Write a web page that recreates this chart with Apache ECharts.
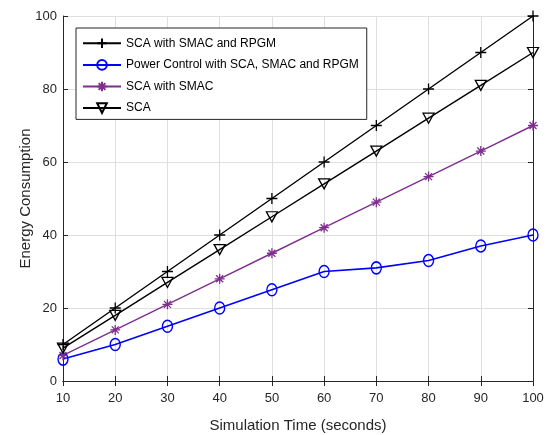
<!DOCTYPE html>
<html><head><meta charset="utf-8">
<script src="https://cdn.jsdelivr.net/npm/echarts@6/dist/echarts.min.js"></script>
<style>html,body{margin:0;padding:0;background:#fff}#c{width:553px;height:435px}</style>
</head><body><div id="c"></div>
<script>
const times = [10,20,30,40,50,60,70,80,90,100];
const scaSmacRpgm = [10,20,30,40,50,60,70,80,90,100];
const powerControl = [6,10,15,20,25,30,31,33,37,40];
const scaSmac = [7,14,21,28,35,42,49,56,63,70];
const sca = [9,18,27,36,45,54,63,72,81,90];
const names = ['SCA with SMAC and RPGM','Power Control with SCA, SMAC and RPGM','SCA with SMAC','SCA'];

const plus = 'path://M5,0 L5,10 M0,5 L10,5';
const star = 'path://M5,0 L5,10 M0,5 L10,5 M1.5,1.5 L8.5,8.5 M8.5,1.5 L1.5,8.5';
const tri = 'path://M0,0 L10,0 L5,10 Z';
const circ = 'path://M10,6 A5,6 0 1,1 0,6 A5,6 0 1,1 10,6 Z';
const pair = arr => times.map((t,i)=>[t,arr[i]]);
const font = 'Liberation Sans, Arial, sans-serif';

function mk(name, data, color, symbol, size, lw, bw){
  return {name, type:'line', data:pair(data), symbol, symbolSize:size,
    lineStyle:{color, width:lw}, itemStyle:{color:'none', borderColor:color, borderWidth:bw||1.3},
    emphasis:{disabled:true}, animation:false, z:3};
}
const chart = echarts.init(document.getElementById('c'));
const axCol = '#262626';
chart.setOption({
  animation:false,
  grid:{left:63, right:20, top:16, bottom:54, outerBoundsMode:'none', containLabel:false},
  legend:{
    left:76, top:28, orient:'vertical', itemWidth:38, itemHeight:12, itemGap:7,
    padding:[8,8,4,6],
    backgroundColor:'#fff', borderColor:'#262626', borderWidth:1,
    textStyle:{fontFamily:font, fontSize:12, color:'#000'},
    data:names
  },
  xAxis:[{type:'value', min:10, max:100, interval:10,
    name:'Simulation Time (seconds)', nameLocation:'middle', nameGap:37, nameMoveOverlap:false,
    nameTextStyle:{fontFamily:font, fontSize:15, color:axCol},
    axisLine:{lineStyle:{color:axCol}}, axisTick:{inside:true, length:5, lineStyle:{color:axCol}},
    axisLabel:{fontFamily:font, fontSize:13, color:axCol, margin:11},
    splitLine:{show:true, lineStyle:{color:'#dfdfdf'}}},
    {type:'value', position:'top', min:10, max:100, interval:10,
    axisLine:{show:true, lineStyle:{color:axCol}}, axisTick:{inside:true, length:5, lineStyle:{color:axCol}},
    axisLabel:{show:false}, splitLine:{show:false}}],
  yAxis:[{type:'value', min:0, max:100, interval:20,
    name:'Energy Consumption', nameLocation:'middle', nameGap:30, nameMoveOverlap:false,
    nameTextStyle:{fontFamily:font, fontSize:15, color:axCol},
    axisLine:{lineStyle:{color:axCol}}, axisTick:{inside:true, length:5, lineStyle:{color:axCol}},
    axisLabel:{fontFamily:font, fontSize:13, color:axCol, margin:6},
    splitLine:{show:true, lineStyle:{color:'#dfdfdf'}}},
    {type:'value', position:'right', min:0, max:100, interval:20,
    axisLine:{show:true, lineStyle:{color:axCol}}, axisTick:{inside:true, length:5, lineStyle:{color:axCol}},
    axisLabel:{show:false}, splitLine:{show:false}}],
  series:[
    mk(names[0], scaSmacRpgm, '#000000', plus, 11, 1.4),
    mk(names[1], powerControl, '#0000ff', circ, [10,12], 1.6, 1.5),
    mk(names[2], scaSmac, '#7e2f8e', star, 10, 1.4),
    mk(names[3], sca, '#000000', tri, [11,10], 1.4)
  ]
});
</script></body></html>
